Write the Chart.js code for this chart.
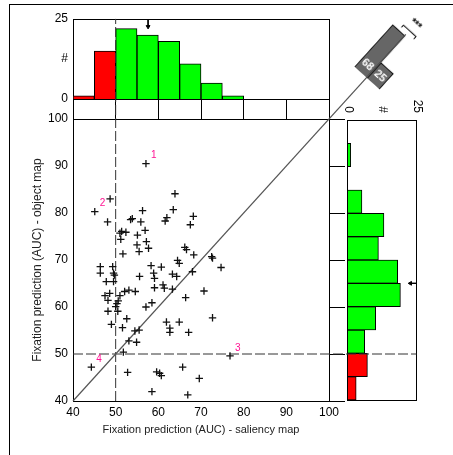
<!DOCTYPE html>
<html>
<head>
<meta charset="utf-8">
<script src="https://cdn.jsdelivr.net/npm/chart.js@4/dist/chart.umd.min.js"></script>
<style>
  html, body { margin: 0; padding: 0; background: #fff; }
  #wrap { position: relative; width: 453px; height: 455px; overflow: hidden; }
  canvas { position: absolute; }
  #frame { position: absolute; left: 9px; top: 4px; width: 470px; height: 470px; border-top: 1px solid #000; border-left: 1px solid #000; }
</style>
</head>
<body>
<div id="wrap">
  <div id="frame"></div>
  <canvas id="top" width="340" height="104" style="left:0;top:0"></canvas>
  <canvas id="side" width="305" height="80" style="left:0;top:0;transform-origin:0 0;transform:translate(423px,100px) rotate(90deg)"></canvas>
  <canvas id="diag" width="42" height="81" style="left:345.5px;top:-1.5px;transform-origin:21px 79px;transform:rotate(42.2deg)"></canvas>
  <canvas id="main" width="453" height="455" style="left:0;top:0"></canvas>
</div>
<script>
// one point per image: AUC of the saliency map (x) and of the object map (y)
const saliencyAUC = [57.1, 45.1, 76.8, 44.3, 48.7, 48.1, 46.4, 46.4, 47.8, 47.5,
  48.6, 48.2, 48.2, 49.0, 49.3, 49.5, 49.7, 49.5, 50.0, 50.3,
  50.5, 50.6, 51.0, 51.0, 51.4, 51.2, 52.4, 51.7, 52.1, 53.1,
  54.6, 52.6, 51.6, 51.8, 53.1, 54.9, 54.5, 55.5, 52.8, 53.5,
  53.9, 55.1, 55.0, 55.5, 56.3, 55.9, 56.9, 57.2, 57.7, 55.6,
  58.3, 58.9, 59.1, 59.1, 57.1, 58.5, 60.7, 61.1, 61.4, 61.6,
  62.0, 63.9, 63.5, 63.3, 64.3, 63.3, 64.5, 64.9, 66.2, 66.6,
  68.2, 67.5, 68.3, 68.0, 66.4, 61.9, 64.9, 62.7, 62.7, 67.1,
  70.7, 72.5, 72.7, 74.7, 72.7, 58.5, 66.9, 59.6, 60.3, 60.7,
  65.7, 69.6]
const objectAUC = [90.5, 80.3, 49.6, 47.2, 83.0, 78.1, 68.6, 67.2, 65.4, 62.4,
  62.9, 61.4, 59.1, 56.3, 68.6, 67.2, 66.8, 65.4, 60.1, 60.7,
  59.1, 61.3, 62.4, 75.7, 76.1, 74.4, 75.9, 71.3, 63.3, 63.6,
  63.3, 57.5, 55.6, 50.4, 52.8, 52.5, 54.9, 55.1, 46.1, 78.6,
  78.8, 75.3, 73.2, 71.8, 80.5, 78.1, 76.3, 73.9, 72.5, 66.5,
  68.8, 67.2, 66.1, 64.1, 60.0, 60.9, 68.5, 64.7, 64.0, 78.3,
  79.0, 84.1, 80.7, 67.0, 66.5, 63.8, 69.9, 69.3, 72.7, 72.2,
  79.3, 77.5, 71.1, 67.5, 62.0, 56.8, 56.8, 55.5, 54.6, 54.6,
  63.4, 70.7, 70.4, 68.4, 57.7, 42.0, 41.3, 46.2, 45.9, 45.4,
  47.2, 44.8]
const tagIndex = [0, 1, 2, 3]
const tagText = ['1', '2', '3', '4']

// histograms, 5-point bins from 40 to 100
const binCenters = [42.5, 47.5, 52.5, 57.5, 62.5, 67.5, 72.5, 77.5, 82.5, 87.5, 92.5, 97.5]
const saliencyCounts = [1, 15, 22, 20, 18, 11, 5, 1, 0, 0, 0, 0]
const objectCounts = [3, 7, 6, 10, 19, 18, 11, 13, 5, 0, 1, 0]
const saliencyMean = 57.6
const objectMean = 65.0

// images above / below the diagonal
const diagLabels = ['object map better', 'saliency map better']
const diagCounts = [68, 25]

const axisTicks = [40, 50, 60, 70, 80, 90, 100]
const countTicks = [0, 12.5, 25]
const countTickText = ['0', '#', '25']
const chance = 50

const FONT = '"Liberation Sans", Arial, Helvetica, sans-serif'
Chart.defaults.font.family = FONT
Chart.defaults.color = '#000'

const red = '#ff0000'
const green = '#00ff00'

const boxPlugin = {
  id: 'box',
  beforeDatasetsDraw(chart) {
    const { ctx, chartArea: a } = chart
    ctx.save()
    ctx.strokeStyle = '#000'
    ctx.lineWidth = 1
    const l = Math.round(a.left) + 0.5, t = Math.round(a.top) + 0.5
    ctx.strokeRect(l, t, Math.round(a.right) - Math.round(a.left), Math.round(a.bottom) - Math.round(a.top))
    ctx.restore()
  }
}

const tagPlugin = {
  id: 'tags',
  afterDatasetsDraw(chart) {
    const meta = chart.getDatasetMeta(0)
    const ctx = chart.ctx
    ctx.save()
    ctx.fillStyle = '#ff1493'
    ctx.font = '10px ' + FONT
    ctx.textBaseline = 'middle'
    tagIndex.forEach((idx, i) => {
      const p = meta.data[idx]
      ctx.fillText(tagText[i], p.x + 5, p.y - 8)
    })
    ctx.restore()
  }
}

const fixedTicks = (vals) => (s) => { s.ticks = vals.map(v => ({ value: v })) }
const countLabel = (v) => countTickText[countTicks.indexOf(v)]
const fitWidth = (w) => (s) => { s.width = w; s.paddingTop = 0; s.paddingBottom = 0 }
const fitFlat = (s) => { s.height = 0; s.paddingLeft = 0; s.paddingRight = 0 }
const noGrid = { display: false, drawTicks: false }
const common = {
  responsive: false,
  animation: false,
  events: [],
  plugins: { legend: { display: false }, tooltip: { enabled: false } }
}

// top histogram (saliency map)
new Chart(document.getElementById('top'), {
  type: 'bar',
  data: {
    datasets: [{
      data: binCenters.map((x, i) => ({ x, y: saliencyCounts[i] })),
      backgroundColor: binCenters.map(x => x < chance ? red : green),
      borderColor: '#000',
      borderWidth: 1,
      barPercentage: 1,
      categoryPercentage: 1
    }, {
      type: 'line',
      data: [{ x: saliencyMean, y: 25 }, { x: saliencyMean, y: 22.6 }],
      borderColor: '#000',
      borderWidth: 1,
      pointRadius: [0, 2.2],
      pointStyle: 'triangle',
      pointRotation: 180,
      pointBackgroundColor: '#000'
    }]
  },
  options: {
    ...common,
    layout: { padding: { left: 0, top: 19, right: 11, bottom: 5 } },
    scales: {
      x: {
        type: 'linear', min: 40, max: 100, offset: false,
        afterFit: fitFlat,
        ticks: { display: false, stepSize: 10 },
        grid: noGrid, border: { display: false }
      },
      y: {
        min: 0, max: 25,
        afterFit: fitWidth(73),
        afterBuildTicks: fixedTicks(countTicks),
        ticks: { callback: countLabel, font: { size: 12 }, padding: 5 },
        grid: noGrid, border: { display: false }
      }
    }
  },
  plugins: [boxPlugin]
})

// right histogram (object map), drawn upright then turned by CSS
new Chart(document.getElementById('side'), {
  type: 'bar',
  data: {
    datasets: [{
      data: binCenters.map((x, i) => ({ x, y: objectCounts[i] })),
      backgroundColor: binCenters.map(x => x < chance ? red : green),
      borderColor: '#000',
      borderWidth: 1,
      barPercentage: 1,
      categoryPercentage: 1
    }, {
      type: 'line',
      data: [{ x: objectMean, y: 25 }, { x: objectMean, y: 22.6 }],
      borderColor: '#000',
      borderWidth: 1,
      pointRadius: [0, 2.2],
      pointStyle: 'triangle',
      pointRotation: 180,
      pointBackgroundColor: '#000'
    }]
  },
  options: {
    ...common,
    layout: { padding: { left: 0, top: 6, right: 4, bottom: 2 } },
    scales: {
      x: {
        type: 'linear', min: 40, max: 100, reverse: true, offset: false,
        afterFit: fitFlat,
        ticks: { display: false, stepSize: 10 },
        grid: noGrid, border: { display: false }
      },
      y: {
        min: 0, max: 25,
        afterFit: fitWidth(20),
        afterBuildTicks: fixedTicks(countTicks),
        ticks: { callback: countLabel, font: { size: 12 }, padding: 7 },
        grid: noGrid, border: { display: false }
      }
    }
  },
  plugins: [boxPlugin]
})

// diagonal histogram
new Chart(document.getElementById('diag'), {
  type: 'bar',
  data: {
    labels: diagLabels,
    datasets: [{
      data: diagCounts,
      backgroundColor: '#666',
      borderColor: '#000',
      borderWidth: 1,
      barPercentage: 1,
      categoryPercentage: 1
    }, {
      type: 'line',
      data: [{ x: diagLabels[0], y: 72.5 }, { x: diagLabels[0], y: 76 },
             { x: diagLabels[1], y: 76 }, { x: diagLabels[1], y: 72.5 }],
      borderColor: '#000',
      borderWidth: 1,
      pointRadius: 0
    }]
  },
  options: {
    ...common,
    layout: { padding: { left: 4, right: 4, top: 2, bottom: 2 } },
    plugins: {
      ...common.plugins,
      title: { display: true, text: '***', font: { size: 10, lineHeight: 1 }, padding: 0, color: '#000' }
    },
    scales: {
      x: {
        afterFit: fitFlat,
        ticks: {
          z: 1, callback: (v, i) => String(diagCounts[i]), color: '#fff',
          font: { size: 11, weight: 'bold' }, mirror: true, padding: 3, autoSkip: false, maxRotation: 0
        },
        grid: noGrid, border: { display: false }
      },
      y: { display: false, min: 0, max: 80 }
    }
  }
})

// main scatter
new Chart(document.getElementById('main'), {
  type: 'scatter',
  data: {
    datasets: [{
      data: saliencyAUC.map((x, i) => ({ x, y: objectAUC[i] })),
      pointStyle: 'cross',
      pointRadius: 3.7,
      borderColor: '#111',
      borderWidth: 1.3
    }, {
      type: 'line',
      data: [{ x: 40, y: 40 }, { x: 118, y: 118 }],
      borderColor: '#555',
      borderWidth: 1.2,
      pointRadius: 0,
      clip: false
    }, {
      type: 'line',
      data: [{ x: chance, y: 40 }, { x: chance, y: 121.3 }],
      borderColor: '#333',
      borderWidth: 1,
      borderDash: [10, 3],
      pointRadius: 0,
      clip: false
    }, {
      type: 'line',
      data: [{ x: 40, y: chance }, { x: 120.5, y: chance }],
      borderColor: '#333',
      borderWidth: 1,
      borderDash: [10, 3],
      pointRadius: 0,
      clip: false
    }]
  },
  options: {
    ...common,
    layout: { padding: { left: 0, top: 119, right: 124, bottom: 0 } },
    scales: {
      x: {
        type: 'linear', min: 40, max: 100, position: 'bottom',
        afterFit(s) { s.height = 54 },
        afterBuildTicks: fixedTicks(axisTicks),
        ticks: { font: { size: 12 }, padding: 4, maxRotation: 0 },
        grid: noGrid, border: { display: false },
        title: {
          display: true, text: 'Fixation prediction (AUC) - saliency map',
          color: '#222', font: { size: 11 }, padding: { top: 0, bottom: 18 }
        }
      },
      x2: {
        type: 'linear', min: 40, max: 100, position: 'top',
        afterFit(s) { s.height = 0 },
        afterBuildTicks: fixedTicks(axisTicks),
        ticks: { display: false },
        grid: { drawOnChartArea: false, drawTicks: true, tickLength: 20, color: '#000' },
        border: { display: false }
      },
      y: {
        type: 'linear', min: 40, max: 100, position: 'left',
        afterFit(s) { s.width = 73 },
        afterBuildTicks: fixedTicks(axisTicks),
        ticks: { font: { size: 12 }, padding: 5 },
        grid: noGrid, border: { display: false },
        title: {
          display: true, text: 'Fixation prediction (AUC) - object map',
          color: '#222', font: { size: 12 }, padding: { top: 30, bottom: 0 }
        }
      },
      y2: {
        type: 'linear', min: 40, max: 100, position: 'right',
        afterFit(s) { s.width = 0 },
        afterBuildTicks: fixedTicks(axisTicks),
        ticks: { display: false },
        grid: { drawOnChartArea: false, drawTicks: true, tickLength: 16, color: '#000' },
        border: { display: false }
      }
    }
  },
  plugins: [boxPlugin, tagPlugin]
})
</script>
</body>
</html>
